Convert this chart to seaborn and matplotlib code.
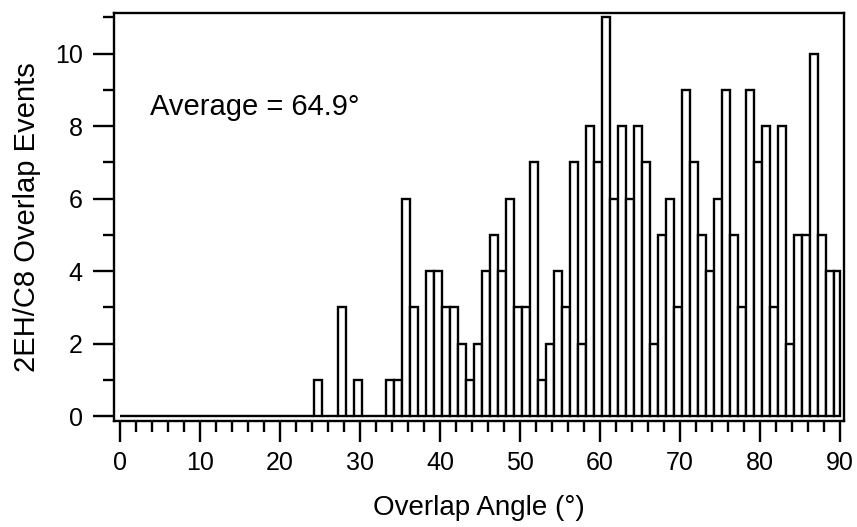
import numpy as np
import pandas as pd
import matplotlib
matplotlib.use("Agg")
import matplotlib.pyplot as plt
from matplotlib.ticker import MultipleLocator
import seaborn as sns

# Histogram counts: one bin per degree, bins start at 0.25 offset (n+0.25 .. n+1.25), n = 0..89
bin_start = list(range(0, 90))
counts = [0] * 24 + [
    1, 0, 0, 3, 0, 1, 0, 0, 0, 1,   # 24-33
    1, 6, 3, 0, 4, 4, 3, 3, 2, 1,   # 34-43
    2, 4, 5, 4, 6, 3, 3, 7, 1, 2,   # 44-53
    4, 3, 7, 2, 8, 7, 11, 6, 8, 6,  # 54-63
    8, 7, 2, 5, 6, 3, 9, 7, 5, 4,   # 64-73
    6, 9, 5, 3, 9, 7, 8, 3, 8, 2,   # 74-83
    5, 5, 10, 5, 4, 4,              # 84-89
]
bin_offset = 0.25
x_ticks = [0, 10, 20, 30, 40, 50, 60, 70, 80, 90]
y_ticks = [0, 2, 4, 6, 8, 10]
annotation = "Average = 64.9°"

edges = np.unique(np.r_[0.0, np.array(bin_start) + bin_offset, 90.0])
centers = (edges[:-1] + edges[1:]) / 2
weights = np.r_[0, counts]
df = pd.DataFrame({"angle": centers, "count": weights})

sns.set_style("ticks")
plt.rcParams["font.family"] = ["Liberation Sans", "DejaVu Sans"]

fig = plt.figure(figsize=(8.57, 5.27), dpi=100)
ax = fig.add_axes([0.1336, 0.2002, 0.8512, 0.7757])

sns.histplot(data=df, x="angle", weights="count", bins=edges.tolist(), ax=ax,
             element="bars", fill=True, color="white", edgecolor="black",
             linewidth=1.7, alpha=1, shrink=1)

ax.set_xlim(-0.69, 90.5)
ax.set_ylim(-0.15, 11.13)
ax.set_xticks(x_ticks)
ax.set_yticks(y_ticks)
ax.xaxis.set_minor_locator(MultipleLocator(2))
ax.yaxis.set_minor_locator(MultipleLocator(1))

for s in ax.spines.values():
    s.set_linewidth(1.7)
    s.set_color("black")

ax.tick_params(axis="both", which="major", direction="out", length=15, width=1.7,
               color="black", labelsize=18, labelcolor="black")
ax.tick_params(axis="both", which="minor", direction="out", length=8, width=1.7,
               color="black")
ax.tick_params(axis="y", which="major", pad=8)
ax.tick_params(axis="x", which="major", pad=6)

ax.set_xlabel("Overlap Angle (°)", fontsize=20, color="black", labelpad=15)
ax.set_ylabel("2EH/C8 Overlap Events", fontsize=21, color="black", labelpad=10)

ax.text(3.75, 8.3, annotation, fontsize=21, color="black", ha="left", va="baseline")

fig.savefig("out.png", dpi=100)
